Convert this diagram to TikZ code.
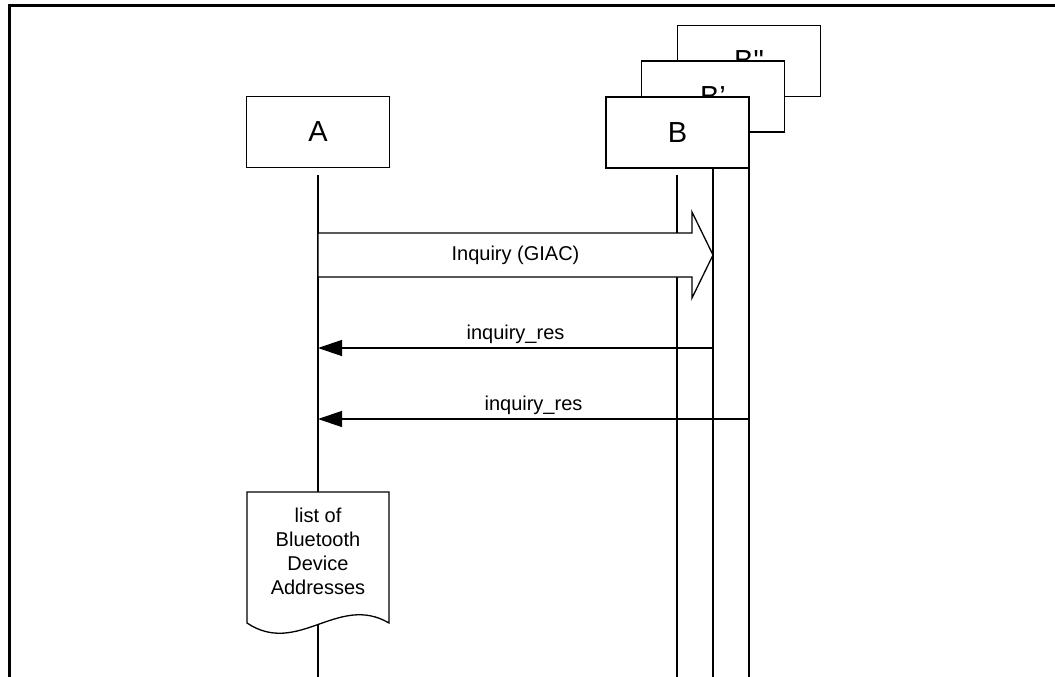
\documentclass[tikz,border=0pt]{standalone}
\usepackage{fontspec}
\setmainfont{Liberation Sans}[Ligatures=TeXOff]
\usetikzlibrary{arrows.meta,calc}

\begin{document}
\begin{tikzpicture}[x=1pt,y=-1pt,
  LifeBox/.style={draw,fill=white,line width=1.7pt,minimum width=143pt,minimum height=71pt,inner sep=0pt,font=\fontsize{29}{34}\selectfont},
  LifeLine/.style={line width=1.3pt},
  MsgArrow/.style={line width=1.3pt,-{Triangle[length=24pt,width=16pt]}},
  MsgLabel/.style={above=4pt,inner sep=0pt,font=\fontsize{20}{24}\selectfont},
  BlockArrow/.style={draw,fill=white,line width=1.3pt,line join=miter},
  DocShape/.style={draw,fill=white,line width=1.3pt}]
\useasboundingbox (0,0) rectangle (1055,677);

\draw[line width=3pt] (9,677) -- (9,6) -- (1055,6);

\coordinate (ATop) at (318,175);
\coordinate (ADoc) at (318,492);
\coordinate (AWave) at (318,625);
\coordinate (ABot) at (318,677);
\coordinate (BTop) at (677,175);
\coordinate (BBot) at (677,677);
\coordinate (BpTop) at (713,132);
\coordinate (BpBot) at (713,677);
\coordinate (BppTop) at (749,97);
\coordinate (BppBot) at (749,677);

\draw[LifeLine] (ATop) -- (ADoc);
\draw[LifeLine] (AWave) -- (ABot);
\draw[LifeLine] (BTop) -- (BBot);
\draw[LifeLine] (BpTop) -- (BpBot);
\draw[LifeLine] (BppTop) -- (BppBot);

\node[LifeBox] (Bpp) at (749,61) {B"};
\node[LifeBox] (Bp) at (713,96.5) {B’};
\node[LifeBox] (B) at (677.5,132.5) {B};
\node[LifeBox] (A) at (318,132) {A};

\coordinate (AInq) at (318,255);
\coordinate (BpInq) at (713,255);
\draw[BlockArrow] ($(AInq)+(0,-22)$) -- ($(BpInq)+(-21,-22)$) -- ($(BpInq)+(-21,-43)$)
  -- (BpInq) -- ($(BpInq)+(-21,43)$) -- ($(BpInq)+(-21,22)$) -- ($(AInq)+(0,22)$) -- cycle;
\node[font=\fontsize{20}{24}\selectfont] (Inq) at ($(AInq)!0.5!(BpInq)$) {Inquiry (GIAC)};

\coordinate (ARes1) at (318,348);
\coordinate (BpRes1) at (713,348);
\coordinate (ARes2) at (318,419);
\coordinate (BppRes2) at (749,419);
\draw[MsgArrow] (BpRes1) -- node[MsgLabel] (Res1) {inquiry\_res} (ARes1);
\draw[MsgArrow] (BppRes2) -- node[MsgLabel] (Res2) {inquiry\_res} (ARes2);

\draw[DocShape] (247,492) -- (389,492) -- (389,623) .. controls (338,593) and (298,657) .. (247,623) -- cycle;
\node[align=center,font=\fontsize{20}{24}\selectfont] (List) at (318,551) {list of\\Bluetooth\\Device\\Addresses};

\end{tikzpicture}
\end{document}
